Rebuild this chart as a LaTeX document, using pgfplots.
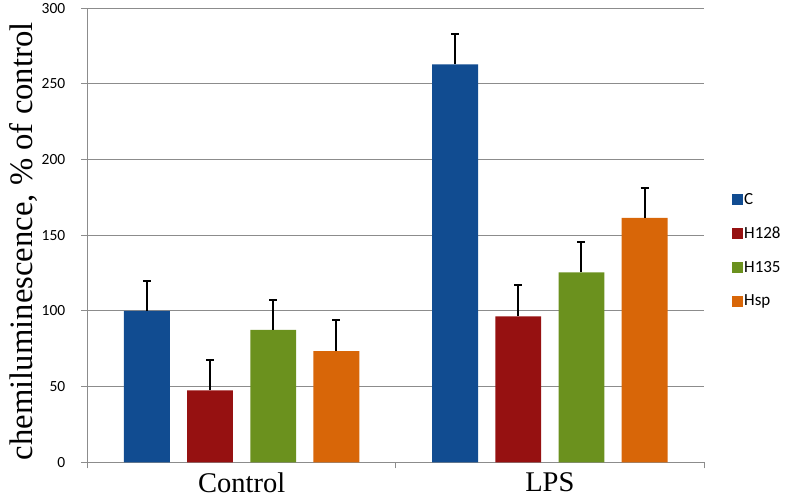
\documentclass[border=0pt]{standalone}
\usepackage{pgfplots}
\pgfplotsset{compat=1.18}
\usepackage{fontspec}
\setmainfont{Liberation Serif}
\newfontfamily\calib{Carlito}
\definecolor{cC}{HTML}{114C91}
\definecolor{cH128}{HTML}{961111}
\definecolor{cH135}{HTML}{6B911E}
\definecolor{cHsp}{HTML}{D86608}
\definecolor{axgray}{HTML}{8C8C8C}
\begin{document}
\begin{tikzpicture}[x=1pt,y=1pt]
\useasboundingbox (0,0) rectangle (788,497);
\begin{axis}[
  at={(87.5pt,34.7pt)}, anchor=south west,
  scale only axis, width=616.5pt, height=454pt,
  xmin=-0.5, xmax=1.5, ymin=0, ymax=300,
  axis lines*=left,
  axis line style={axgray, line width=1pt},
  ytick={0,50,...,300},
  xtick={0,1}, xticklabels={Control,LPS},
  ymajorgrids, grid style={axgray, line width=1pt},
  tick align=outside,
  major tick length=6pt,
  tick style={axgray, line width=1pt},
  x tick style={draw=none},
  extra x ticks={-0.5,0.5,1.5},
  extra x tick labels={},
  extra x tick style={x tick style={draw=axgray}, grid=none},
  /pgf/number format/assume math mode=true,
  yticklabel style={font=\calib\fontsize{15.5}{17}\selectfont, inner sep=0pt, xshift=-16pt},
  xticklabel style={font=\fontsize{28.5}{30}\selectfont, inner sep=0pt, yshift=-4pt},
  ylabel={chemiluminescence, \% of control},
  ylabel style={font=\fontsize{32.7}{34}\selectfont, at={(axis description cs:-0.103,0.487)}, anchor=center, rotate=0},
  bar width=0.149, bar shift=0,
  error bars/y dir=plus, error bars/y explicit,
  error bars/error bar style={black, line width=2pt},
  error bars/error mark options={black, rotate=90, mark size=4pt, line width=2pt},
  legend style={draw=none, fill=none, at={(axis description cs:1.0405,0.4665)}, anchor=west,
    font=\calib\fontsize{17}{19}\selectfont, row sep=19pt,
    nodes={inner sep=1pt}},
  legend cell align=left,
  legend image code/.code={\fill[#1] (0pt,-5.5pt) rectangle (11pt,5.5pt);},
]
\addplot[ybar, fill=cC, draw=none] coordinates {(-0.3075,100) +- (0,20) (0.6925,263) +- (0,20)};
\addlegendentry{C}
\addplot[ybar, fill=cH128, draw=none] coordinates {(-0.1025,47.5) +- (0,20) (0.8975,96.5) +- (0,20.5)};
\addlegendentry{H128}
\addplot[ybar, fill=cH135, draw=none] coordinates {(0.1025,87.5) +- (0,20) (1.1025,125.5) +- (0,20)};
\addlegendentry{H135}
\addplot[ybar, fill=cHsp, draw=none] coordinates {(0.3075,73.5) +- (0,20.5) (1.3075,161.5) +- (0,20)};
\addlegendentry{Hsp}
\end{axis}
\end{tikzpicture}
\end{document}
